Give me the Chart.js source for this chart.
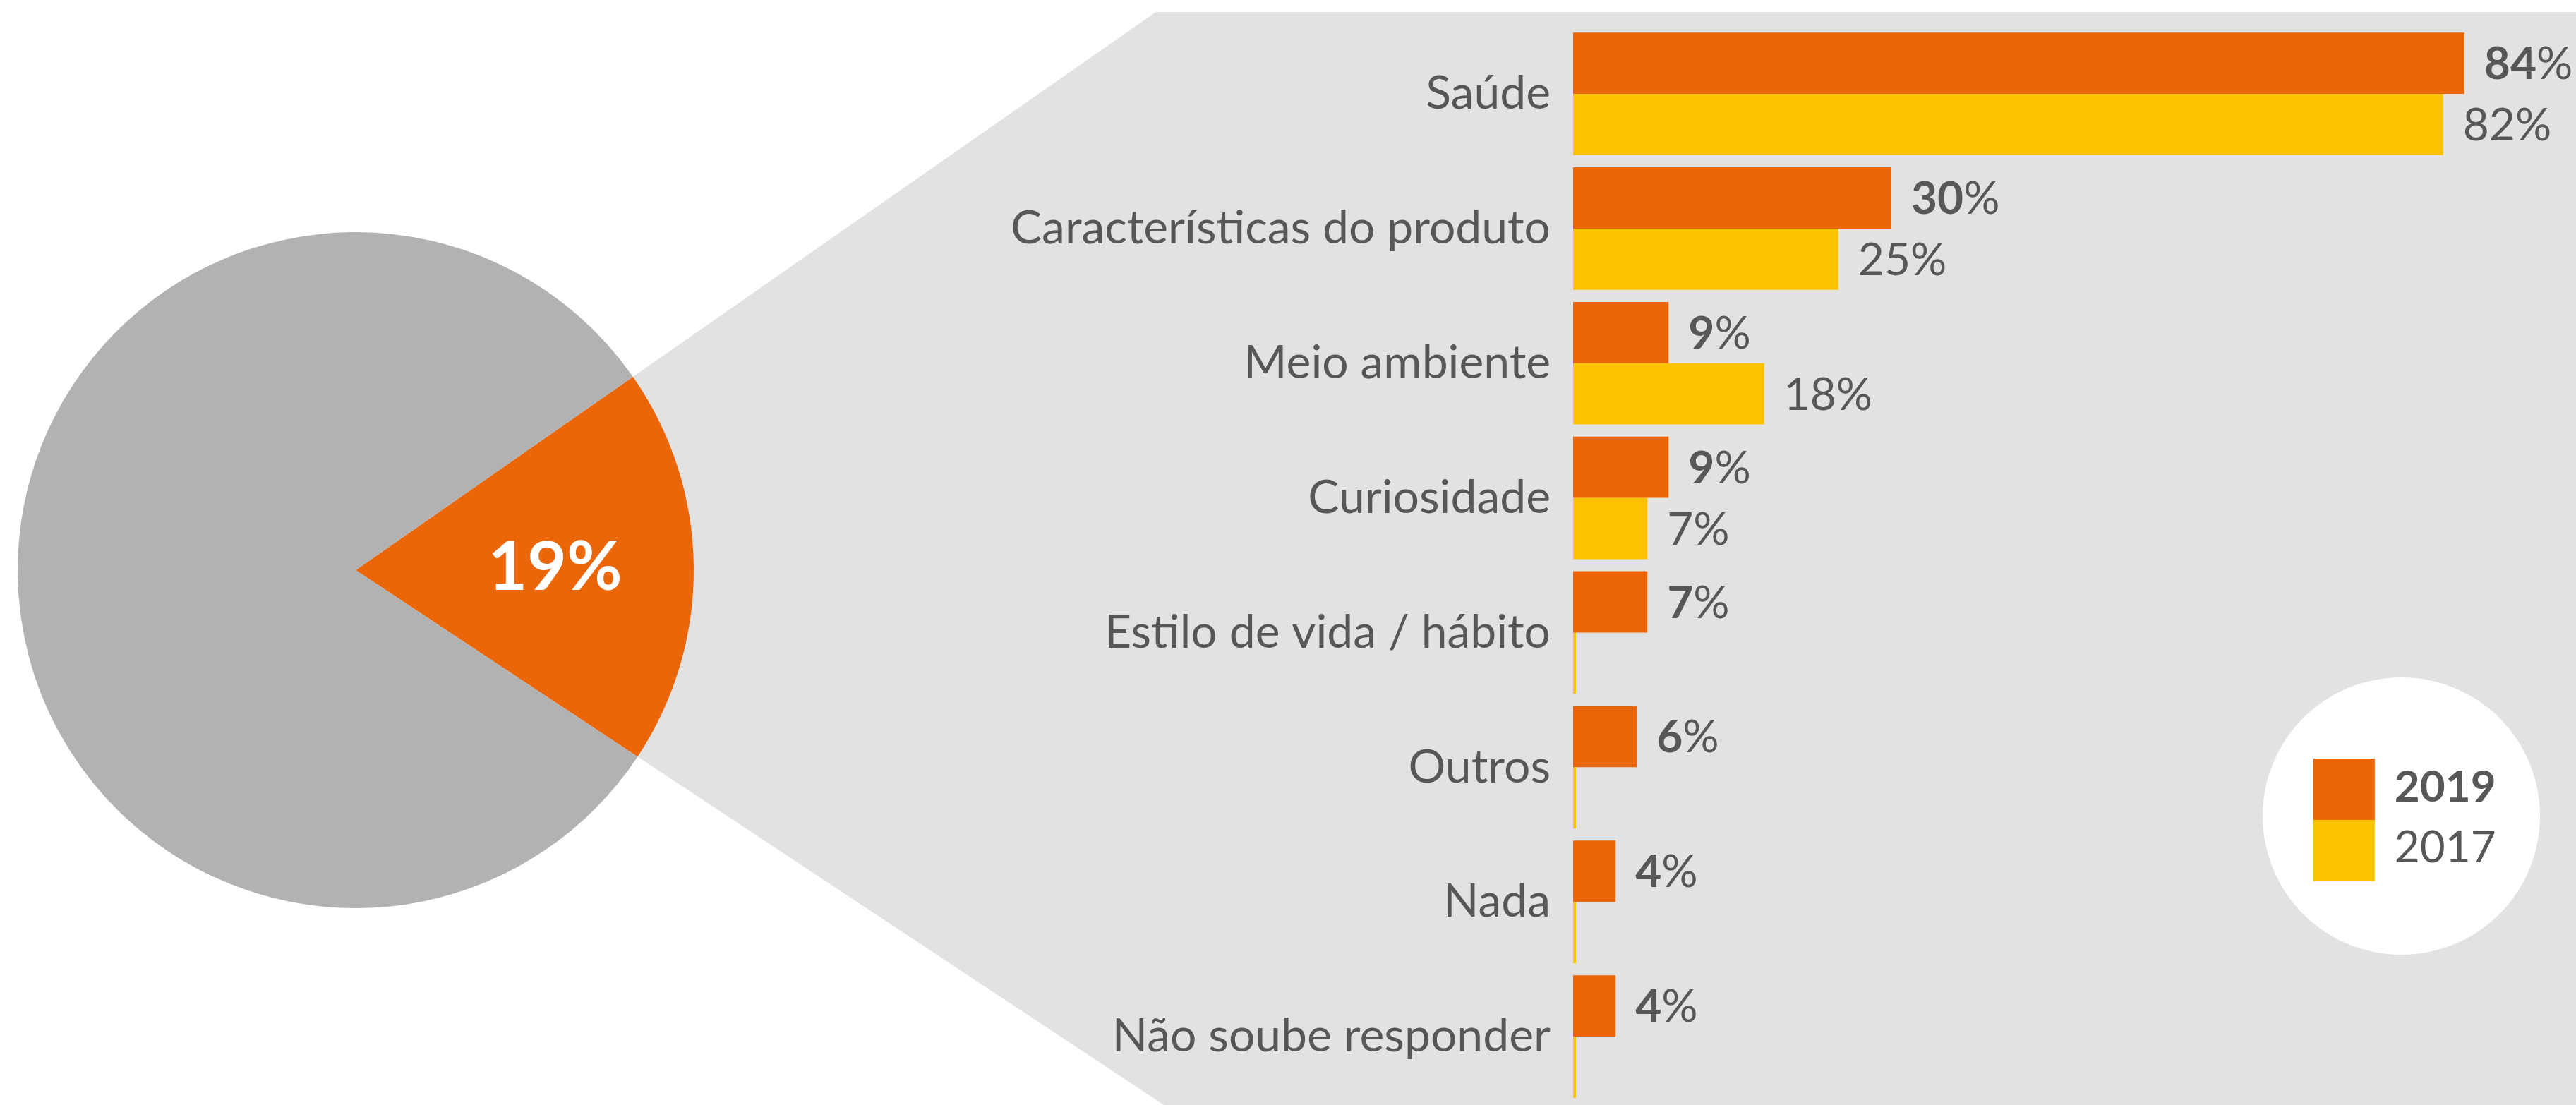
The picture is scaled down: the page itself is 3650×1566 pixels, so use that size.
<!DOCTYPE html>
<html>
<head>
<meta charset="utf-8">
<script src="https://cdn.jsdelivr.net/npm/chart.js@4.4.1/dist/chart.umd.min.js"></script>
<style>
  html, body { margin: 0; padding: 0; background: #fff; }
  #wrap { position: relative; width: 3650px; height: 1566px; overflow: hidden; }
  #pie { position: absolute; left: 0; top: 0; }
  /* the y axis keeps half a label + padding above and below the bars,
     so the bar canvas is shifted up and made taller to let the bars fill the panel */
  #bars { position: absolute; left: 1300px; top: -34px; }
</style>
</head>
<body>
<div id="wrap">
  <canvas id="pie" width="3650" height="1566"></canvas>
  <canvas id="bars" width="2350" height="1670"></canvas>
</div>
<script>
// data
const pieLabels = ["Sim", "Não"];
const pieValues = [19, 81];

const categories = [
  "Saúde",
  "Características do produto",
  "Meio ambiente",
  "Curiosidade",
  "Estilo de vida / hábito",
  "Outros",
  "Nada",
  "Não soube responder"
];
const seriesNames = ["2019", "2017"];
const values2019 = [84, 30, 9, 9, 7, 6, 4, 4];
const values2017 = [82, 25, 18, 7, 0, 0, 0, 0];

const ORANGE = "#EB6608";
const YELLOW = "#FCC200";
const PIE_GRAY = "#B2B2B2";
const PANEL_GRAY = "#E2E2E2";
const TEXT = "#575757";
const FONT = "Lato, 'Open Sans', sans-serif";

// grey "zoom" panel coming out of the orange slice
const zoomPanel = {
  id: "zoomPanel",
  beforeDatasetsDraw(chart) {
    const arc = chart.getDatasetMeta(0).data[0];
    const { x, y, startAngle, endAngle } = arc.getProps(["x", "y", "startAngle", "endAngle"]);
    const top = 17, W = chart.width, H = chart.height;
    const xTop = x + (top - y) / Math.tan(startAngle);
    const xBottom = x + (H - y) / Math.tan(endAngle);
    const ctx = chart.ctx;
    ctx.save();
    ctx.fillStyle = PANEL_GRAY;
    ctx.beginPath();
    ctx.moveTo(x, y);
    ctx.lineTo(xTop, top);
    ctx.lineTo(W, top);
    ctx.lineTo(W, H);
    ctx.lineTo(xBottom, H);
    ctx.closePath();
    ctx.fill();
    ctx.restore();
  }
};

// "19%" inside the slice
const sliceLabel = {
  id: "sliceLabel",
  afterDatasetsDraw(chart) {
    const arc = chart.getDatasetMeta(0).data[0];
    const { x, y, startAngle, endAngle, outerRadius } =
      arc.getProps(["x", "y", "startAngle", "endAngle", "outerRadius"]);
    const mid = (startAngle + endAngle) / 2;
    const r = outerRadius * 0.59;
    const ctx = chart.ctx;
    ctx.save();
    ctx.fillStyle = "#fff";
    ctx.font = "bold 96px " + FONT;
    ctx.textAlign = "center";
    ctx.textBaseline = "middle";
    ctx.fillText(pieValues[0] + "%", x + Math.cos(mid) * r, y + Math.sin(mid) * r);
    ctx.restore();
  }
};

new Chart(document.getElementById("pie"), {
  type: "pie",
  data: {
    labels: pieLabels,
    datasets: [{
      data: pieValues,
      backgroundColor: [ORANGE, PIE_GRAY],
      borderWidth: 0,
      hoverOffset: 0,
      offset: 0
    }]
  },
  options: {
    responsive: false,
    animation: false,
    rotation: 90 - 34.9,
    layout: { padding: { left: 25, top: 329, right: 2667, bottom: 279 } },
    plugins: { legend: { display: false }, tooltip: { enabled: false } },
    events: []
  },
  plugins: [zoomPanel, sliceLabel]
});

// value labels: 2019 bold number, % regular
const valueLabels = {
  id: "valueLabels",
  afterDatasetsDraw(chart) {
    const ctx = chart.ctx;
    ctx.save();
    ctx.fillStyle = TEXT;
    ctx.textBaseline = "middle";
    ctx.textAlign = "left";
    chart.data.datasets.forEach((ds, i) => {
      chart.getDatasetMeta(i).data.forEach((bar, j) => {
        const v = ds.data[j];
        if (!v) return;
        let x = bar.x + 28;
        ctx.font = (i === 0 ? "bold " : "") + "64px " + FONT;
        ctx.fillText(String(v), x, bar.y + 2);
        x += ctx.measureText(String(v)).width;
        ctx.font = "64px " + FONT;
        ctx.fillText("%", x, bar.y + 2);
      });
    });
    ctx.restore();
  }
};

// legend inside a white circle
const circleLegend = {
  id: "circleLegend",
  afterDraw(chart) {
    const ctx = chart.ctx;
    const cx = 2102.5, cy = 1190.5, radius = 196.5;
    const box = chart.getDatasetMeta(0).data[0].height;
    ctx.save();
    ctx.fillStyle = "#fff";
    ctx.beginPath();
    ctx.arc(cx, cy, radius, 0, Math.PI * 2);
    ctx.fill();
    const bx = cx - 124.5;
    let by = cy - box + 5.5;
    chart.data.datasets.forEach((ds, i) => {
      ctx.fillStyle = ds.backgroundColor;
      ctx.fillRect(bx, by, box, box);
      ctx.fillStyle = TEXT;
      ctx.font = (i === 0 ? "bold " : "") + "62px " + FONT;
      ctx.textBaseline = "middle";
      ctx.fillText(ds.label, bx + box + 28, by + box / 2 - 3);
      by += box;
    });
    ctx.restore();
  }
};

new Chart(document.getElementById("bars"), {
  type: "bar",
  data: {
    labels: categories,
    datasets: [
      { label: seriesNames[0], data: values2019, backgroundColor: ORANGE },
      { label: seriesNames[1], data: values2017, backgroundColor: YELLOW, minBarLength: 4 }
    ]
  },
  options: {
    indexAxis: "y",
    responsive: false,
    animation: false,
    events: [],
    layout: { padding: { top: 0, right: 68, bottom: 0, left: 0 } },
    datasets: { bar: { categoryPercentage: 0.91, barPercentage: 1.0, borderWidth: 0 } },
    scales: {
      x: { display: false, min: 0, max: 90 },
      y: {
        grid: { display: false, drawTicks: false },
        border: { display: false },
        ticks: { color: TEXT, font: { family: FONT, size: 66, lineHeight: 1.2 }, padding: 32 },
        afterFit(scale) { scale.width = 929; }
      }
    },
    plugins: { legend: { display: false }, tooltip: { enabled: false } }
  },
  plugins: [valueLabels, circleLegend]
});
</script>
</body>
</html>
